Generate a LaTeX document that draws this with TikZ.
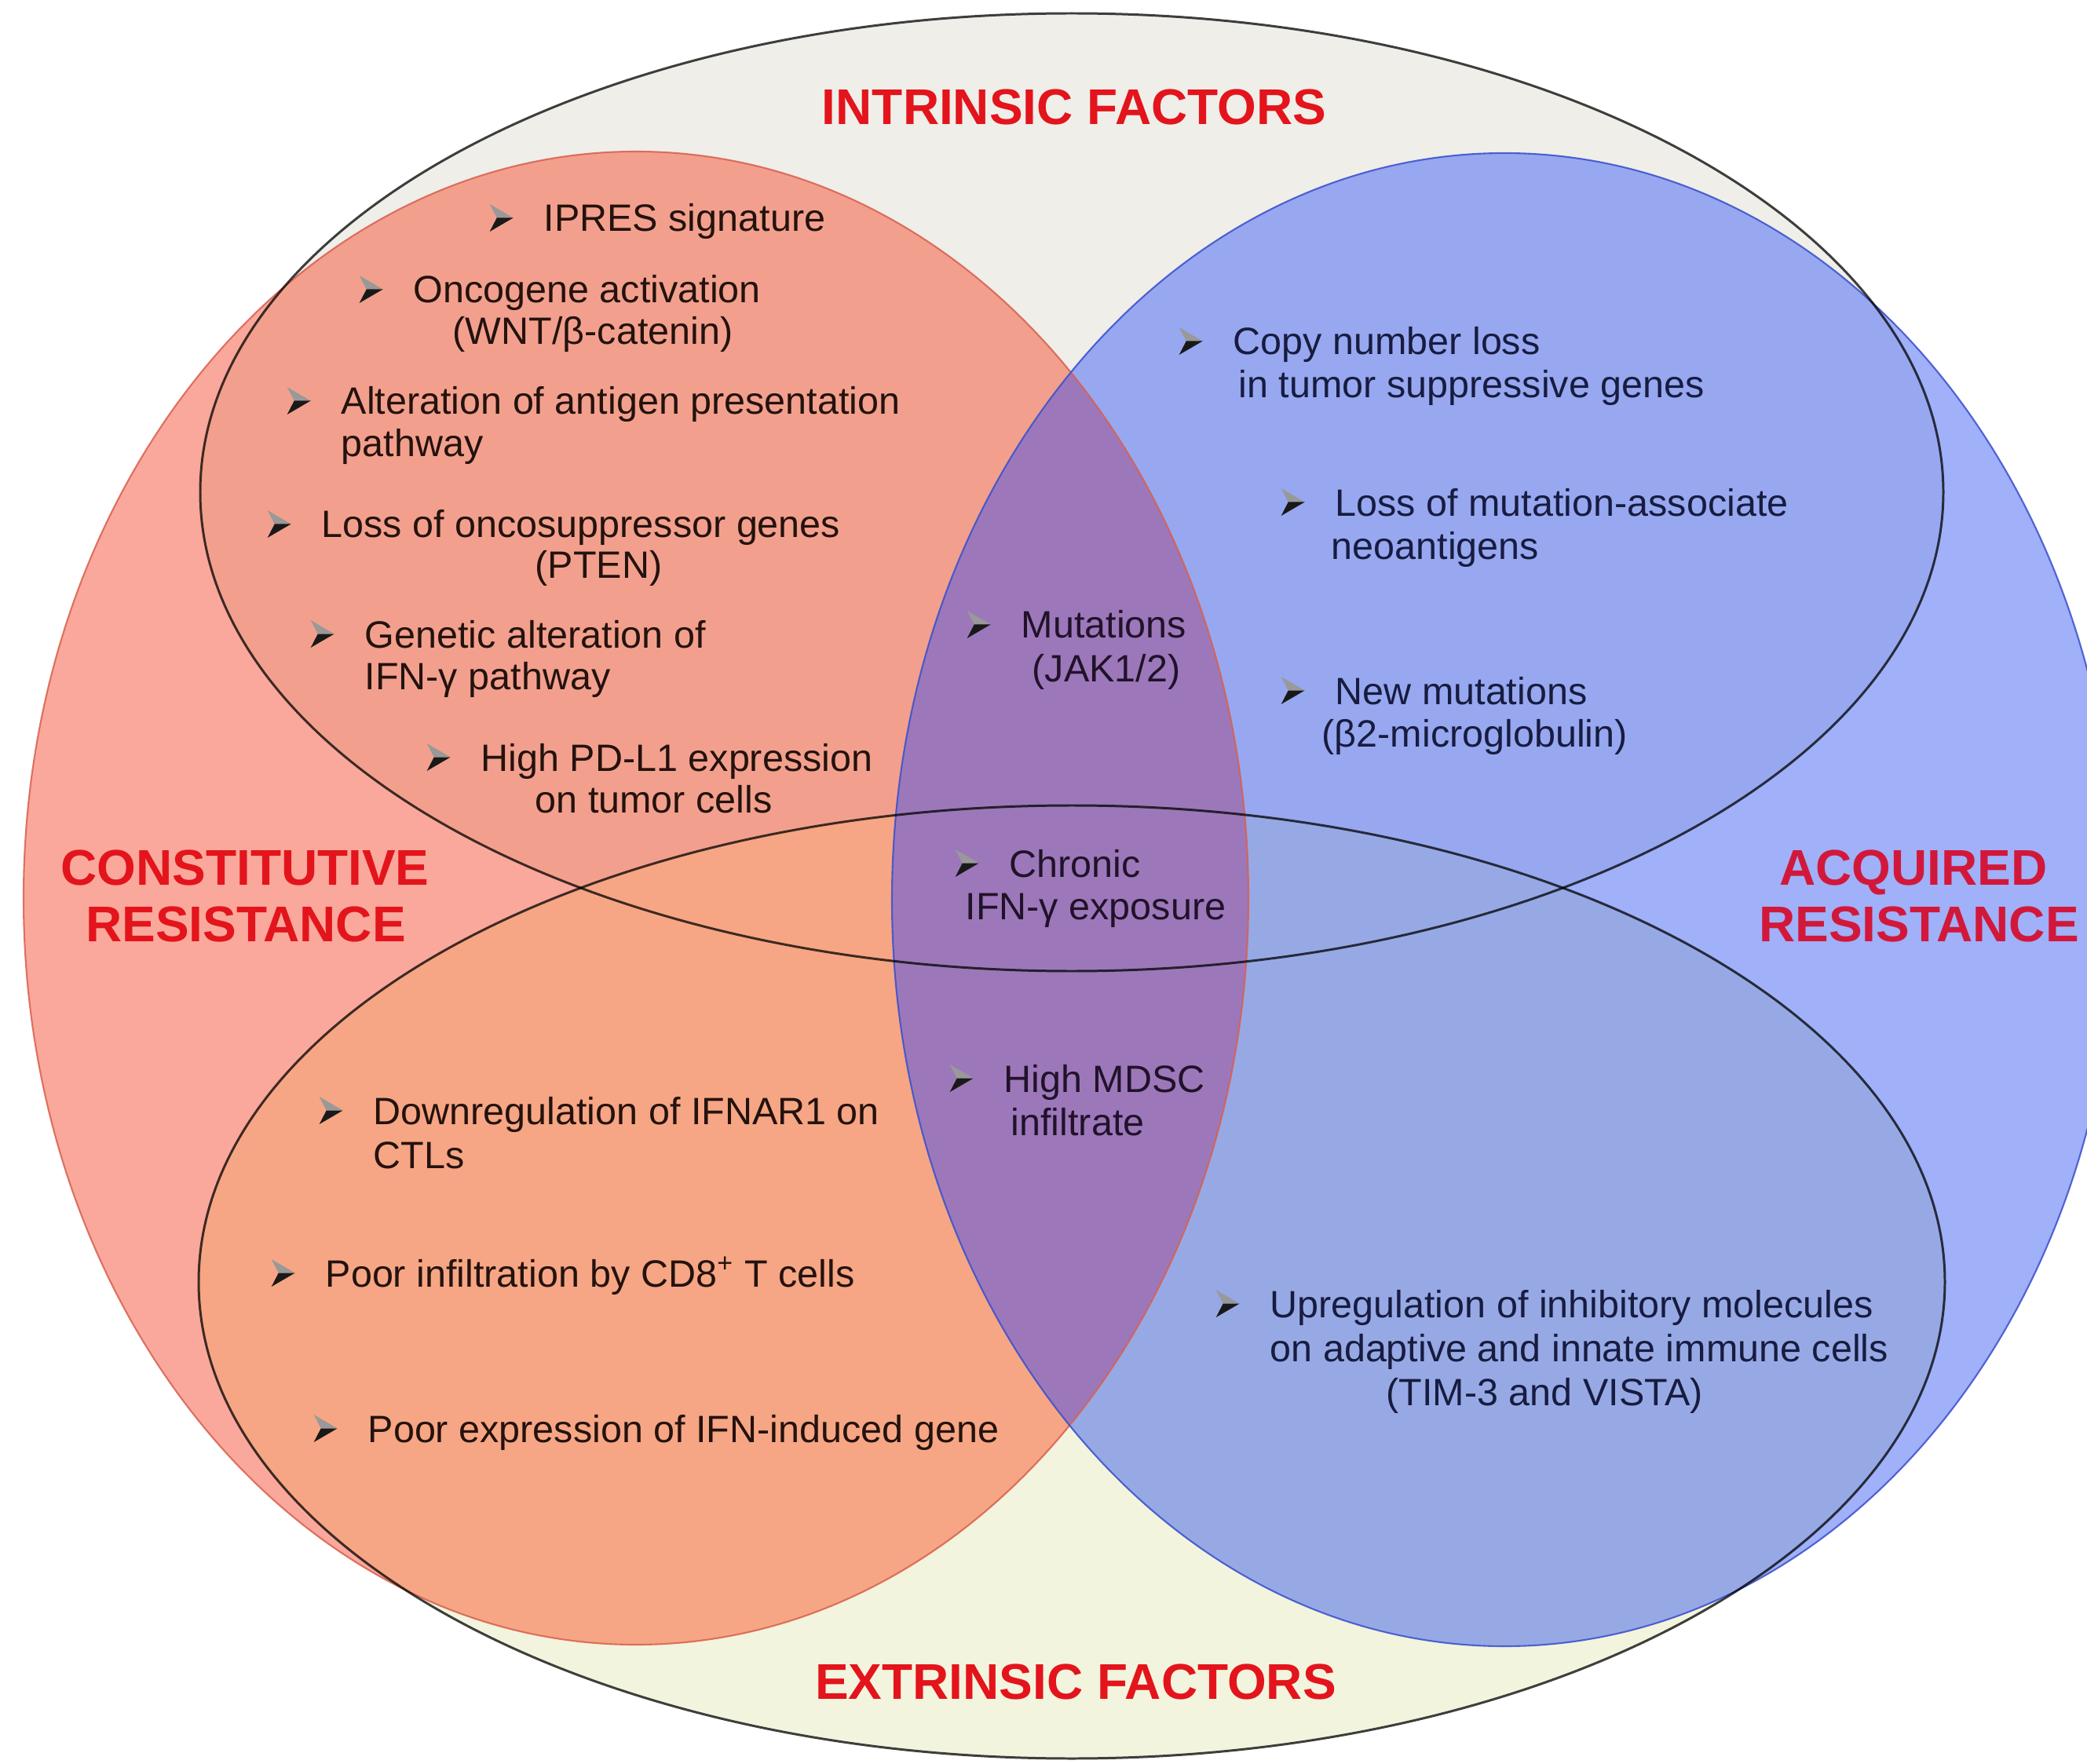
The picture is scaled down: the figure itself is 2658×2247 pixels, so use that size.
\documentclass[tikz,border=0pt]{standalone}
\usepackage{fontspec}
\setmainfont{Liberation Sans}
\definecolor{topfill}{HTML}{EFEEE9}
\definecolor{botfill}{HTML}{F3F4DD}
\definecolor{redA}{HTML}{FAA89B}
\definecolor{redT}{HTML}{F2A08D}
\definecolor{redB}{HTML}{F6A684}
\definecolor{blueA}{HTML}{A0B0F9}
\definecolor{blueT}{HTML}{97A8F0}
\definecolor{blueB}{HTML}{97A9E5}
\definecolor{purp}{HTML}{9C78BA}
\definecolor{redline}{HTML}{D9604F}
\definecolor{blueline}{HTML}{3A4FCC}
\definecolor{txtred}{HTML}{24120E}
\definecolor{txtblue}{HTML}{171C40}
\definecolor{txtpurple}{HTML}{21122A}
\definecolor{lblred}{HTML}{E3141C}
\definecolor{lblblue}{HTML}{D2183A}
\newcommand\bul{\makebox[0.69cm][l]{\tikz[baseline=0pt,x=1cm,y=1cm]{\fill[black!40] (0,0.35)--(0.3,0.175)--(0.09,0.175)--cycle; \fill[black!90] (0,0)--(0.3,0.175)--(0.09,0.175)--cycle;}}}
\begin{document}
\begin{tikzpicture}[x=0.1mm,y=-0.1mm,
  txt/.style={font=\fontsize{13.8}{15}\selectfont, inner sep=0pt, anchor=base west},
  rtxt/.style={txt, text=txtred},
  btxt/.style={txt, text=txtblue},
  ptxt/.style={txt, text=txtpurple},
  lbl/.style={font=\fontsize{18.2}{20}\selectfont\bfseries, inner sep=0pt, anchor=base, text=lblred},
  blbl/.style={lbl, text=lblblue},
  topell/.style={x radius=1110, y radius=610},
  botell/.style={x radius=1112, y radius=607},
  redell/.style={x radius=780, y radius=951},
  blueell/.style={x radius=780, y radius=951}]
\useasboundingbox (0,0) rectangle (2658,2247);
\fill[white] (0,0) rectangle (2658,2247);
% intrinsic / extrinsic ellipses
\fill[topfill] (1365,627) ellipse [topell];
\fill[botfill] (1365,1633) ellipse [botell];
% constitutive (red)
\fill[redA] (810,1144) ellipse [redell];
\begin{scope}
  \clip (810,1144) ellipse [redell];
  \fill[redT] (1365,627) ellipse [topell];
  \fill[redB] (1365,1633) ellipse [botell];
\end{scope}
% acquired (blue)
\fill[blueA] (1916,1146) ellipse [blueell];
\begin{scope}
  \clip (1916,1146) ellipse [blueell];
  \fill[blueT] (1365,627) ellipse [topell];
  \fill[blueB] (1365,1633) ellipse [botell];
\end{scope}
% overlap
\begin{scope}
  \clip (810,1144) ellipse [redell];
  \fill[purp] (1916,1146) ellipse [blueell];
\end{scope}
% outlines
\draw[redline, opacity=0.85, line width=0.6pt] (810,1144) ellipse [redell];
\draw[blueline, opacity=0.85, line width=0.6pt] (1916,1146) ellipse [blueell];
\draw[black, opacity=0.75, line width=0.85pt] (1365,627) ellipse [topell];
\draw[black, opacity=0.75, line width=0.85pt] (1365,1633) ellipse [botell];
% labels
\node[lbl] (intr) at (1368,159) {INTRINSIC FACTORS};
\node[lbl] (extr) at (1370,2164) {EXTRINSIC FACTORS};
\node[lbl] (con1) at (312,1127) {CONSTITUTIVE};
\node[lbl] (con2) at (313,1199) {RESISTANCE};
\node[blbl] (acq1) at (2437,1127) {ACQUIRED};
\node[blbl] (acq2) at (2444,1199) {RESISTANCE};
% constitutive / intrinsic
\node[rtxt] (i1) at (623,295) {\bul IPRES signature};
\node[rtxt] (i2) at (457,386) {\bul Oncogene activation};
\node[rtxt] (i2b) at (576,439) {(WNT/β-catenin)};
\node[rtxt] (i3) at (365,528) {\bul Alteration of antigen presentation};
\node[rtxt] (i3b) at (434,582) {pathway};
\node[rtxt] (i4) at (340,685) {\bul Loss of oncosuppressor genes};
\node[rtxt] (i4b) at (681,737) {(PTEN)};
\node[rtxt] (i5) at (395,825) {\bul Genetic alteration of};
\node[rtxt] (i5b) at (464,879) {IFN-γ pathway};
\node[rtxt] (i6) at (543,982) {\bul High PD-L1 expression};
\node[rtxt] (i6b) at (681,1035) {on tumor cells};
% overlap column
\node[ptxt] (m1) at (1231,813) {\bul Mutations};
\node[ptxt] (m1b) at (1314,868) {(JAK1/2)};
\node[ptxt] (m2) at (1216,1117) {\bul Chronic};
\node[ptxt] (m2b) at (1229,1171) {IFN-γ exposure};
\node[ptxt] (m3) at (1209,1391) {\bul High MDSC};
\node[ptxt] (m3b) at (1287,1446) {infiltrate};
% acquired / intrinsic
\node[btxt] (a1) at (1501,452) {\bul Copy number loss};
\node[btxt] (a1b) at (1577,507) {in tumor suppressive genes};
\node[btxt] (a2) at (1631,657) {\bul Loss of mutation-associate};
\node[btxt] (a2b) at (1695,712) {neoantigens};
\node[btxt] (a3) at (1631,897) {\bul New mutations};
\node[btxt] (a3b) at (1683,951) {(β2-microglobulin)};
% constitutive / extrinsic
\node[rtxt] (e1) at (406,1432) {\bul Downregulation of IFNAR1 on};
\node[rtxt] (e1b) at (475,1488) {CTLs};
\node[rtxt] (e2) at (345,1639) {\bul Poor infiltration by CD8\textsuperscript{+} T cells};
\node[rtxt] (e3) at (399,1837) {\bul Poor expression of IFN-induced gene};
% acquired / extrinsic
\node[btxt] (u1) at (1548,1678) {\bul Upregulation of inhibitory molecules};
\node[btxt] (u1b) at (1617,1734) {on adaptive and innate immune cells};
\node[btxt] (u1c) at (1765,1790) {(TIM-3 and VISTA)};
\end{tikzpicture}
\end{document}
